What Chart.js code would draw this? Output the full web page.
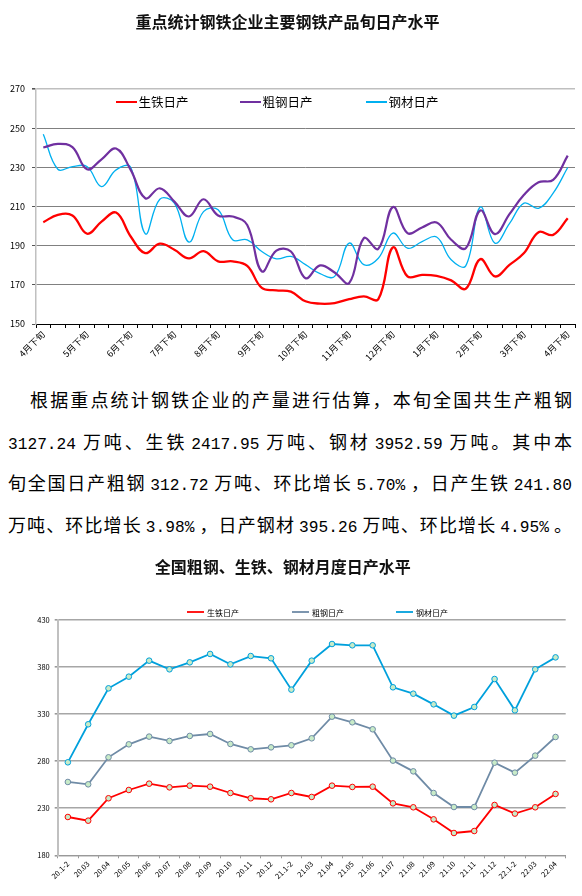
<!DOCTYPE html>
<html>
<head>
<meta charset="utf-8">
<script src="https://cdn.jsdelivr.net/npm/chart.js@4.4.1/dist/chart.umd.min.js"></script>
<style>
  body { margin: 0; background: #fff; width: 582px; }
  .box { position: relative; width: 582px; }
  #text { height: 173px; box-sizing: border-box; padding: 7px 10px 0 8px;
          font-family: 'Noto Sans CJK SC', sans-serif; font-size: 18px; color: #000; }
  #text div { line-height: 41.5px; height: 41.5px; text-align: justify; text-align-last: justify; white-space: nowrap; }
  #text div.first { padding-left: 22px; }
  #text .n { font-family: 'Liberation Mono', monospace; font-size: 16.2px; margin: 0 4px; }
  #text .n.s { margin-left: 0; }
  #text .n.e { margin-right: 0; }
</style>
</head>
<body>
<div class="box" style="height:372px"><canvas id="dekadChart"></canvas></div>
<div id="text">
  <div class="first">根据重点统计钢铁企业的产量进行估算，本旬全国共生产粗钢</div>
  <div><span class="n s">3127.24</span>万吨、生铁<span class="n">2417.95</span>万吨、钢材<span class="n">3952.59</span>万吨。其中本</div>
  <div>旬全国日产粗钢<span class="n">312.72</span>万吨、环比增长<span class="n">5.70%</span>，日产生铁<span class="n e">241.80</span></div>
  <div>万吨、环比增长<span class="n">3.98%</span>，日产钢材<span class="n">395.26</span>万吨、环比增长<span class="n">4.95%</span>。</div>
</div>
<div class="box" style="height:351px"><canvas id="monthChart"></canvas></div>
<script>
// 旬度数据 (重点统计钢铁企业)
var dekadLabels = ['4月下旬', '5月上旬', '5月中旬', '5月下旬', '6月上旬', '6月中旬', '6月下旬',
  '7月上旬', '7月中旬', '7月下旬', '8月上旬', '8月中旬', '8月下旬', '9月上旬', '9月中旬', '9月下旬',
  '10月上旬', '10月中旬', '10月下旬', '11月上旬', '11月中旬', '11月下旬', '12月上旬', '12月中旬', '12月下旬',
  '1月上旬', '1月中旬', '1月下旬', '2月上旬', '2月中旬', '2月下旬', '3月上旬', '3月中旬', '3月下旬',
  '4月上旬', '4月中旬', '4月下旬'];
var dekadPigIron = [202, 205.7, 205.4, 196.1, 202.3, 206.9, 194.7, 186.2, 191, 187.9, 183.5, 187.2, 182, 182,
  179.7, 168.4, 167.2, 166.5, 161.6, 160.4, 160.7, 162.7, 164.1, 162.7, 189.1, 174.3, 175.1, 174.6, 172.3, 168,
  183.1, 174.3, 180.2, 186.2, 196.9, 195.5, 204];
var dekadCrudeSteel = [240.1, 242, 240.3, 229, 234.1, 239.6, 228.7, 214.2, 219.3, 212.5, 204.9, 213.7, 205.4,
  204.9, 200.6, 176.9, 187.5, 187, 173.4, 179.9, 176.3, 170.9, 193.8, 188.4, 209.7, 196.4, 199.3, 201.8, 193,
  188.7, 208, 195.9, 206.1, 216, 222.4, 223.6, 236];
var dekadSteel = [246.9, 229, 230.4, 230.4, 220.2, 228.7, 230, 196.1, 213.7, 211.7, 191.8, 207.4, 208.3, 193,
  193, 187, 183.3, 184.5, 180.3, 175.7, 174.3, 191.3, 180.3, 183.6, 196.4, 188.7, 192.1, 194.4, 182.8, 179.7,
  209.7, 191.3, 201.2, 211.7, 209.1, 216.8, 229.9];

// 月度数据 (全国)
var monthLabels = ['20.1-2', '20.03', '20.04', '20.05', '20.06', '20.07', '20.08', '20.09', '20.10', '20.11',
  '20.12', '21.1-2', '21.03', '21.04', '21.05', '21.06', '21.07', '21.08', '21.09', '21.10', '21.11', '21.12',
  '22.1-2', '22.03', '22.04'];
var monthPigIron = [220.7, 216.8, 240.6, 249.4, 256.1, 252.2, 254, 252.9, 246.2, 240.6, 239.5, 246.2, 242,
  254, 252.6, 252.9, 235.2, 231, 218.2, 203.7, 205.8, 233.5, 224.3, 231, 245.2];
var monthCrudeSteel = [257.9, 255.4, 284.1, 297.9, 306.1, 301.5, 306.8, 308.9, 298.3, 292.6, 294.7, 296.9,
  304.3, 327.3, 321.3, 313.9, 280.6, 269.2, 246.2, 231.3, 231.3, 278.4, 267.8, 285.9, 305.7];
var monthSteel = [278.8, 319.2, 357.4, 369.8, 386.8, 377.6, 385, 393.9, 382.9, 391.7, 389.3, 356, 386.8,
  404.5, 403.1, 403.1, 358.5, 351.7, 340.4, 328.4, 337.6, 367.3, 334, 377.6, 390.3];

Chart.defaults.font.family = "'Noto Sans CJK SC', 'Noto Sans', sans-serif";
Chart.defaults.color = '#000';

// legend drawn at a fixed spot (inside the plot for the first chart)
var inlineLegend = {
  id: 'inlineLegend',
  afterDraw: function (chart, args, opts) {
    var ctx = chart.ctx;
    ctx.save();
    ctx.font = opts.fontSize + "px 'Noto Sans CJK SC', sans-serif";
    ctx.textBaseline = 'middle';
    ctx.textAlign = 'left';
    chart.data.datasets.forEach(function (ds, i) {
      var x = opts.x[i];
      var y = opts.y;
      ctx.strokeStyle = ds.borderColor;
      ctx.lineWidth = opts.lineWidth || ds.borderWidth;
      ctx.beginPath();
      ctx.moveTo(x, y);
      ctx.lineTo(x + opts.lineLength, y);
      ctx.stroke();
      if (opts.marker) {
        ctx.beginPath();
        ctx.arc(x + opts.lineLength / 2, y, ds.pointRadius, 0, Math.PI * 2);
        ctx.fillStyle = ds.pointBackgroundColor;
        ctx.fill();
        ctx.lineWidth = ds.pointBorderWidth;
        ctx.stroke();
      }
      ctx.fillStyle = '#000';
      ctx.fillText(ds.label, x + opts.lineLength + opts.gap, y + 0.5);
    });
    ctx.restore();
  }
};

new Chart(document.getElementById('dekadChart'), {
  type: 'line',
  data: {
    labels: dekadLabels,
    datasets: [
      { label: '生铁日产', data: dekadPigIron, borderColor: '#FF0000', borderWidth: 2.3 },
      { label: '粗钢日产', data: dekadCrudeSteel, borderColor: '#7030A0', borderWidth: 2.2 },
      { label: '钢材日产', data: dekadSteel, borderColor: '#00B0F0', borderWidth: 1.3 }
    ]
  },
  options: {
    responsive: true,
    maintainAspectRatio: false,
    animation: false,
    layout: { padding: { left: 0, right: 7, top: 0, bottom: 0 } },
    elements: { point: { radius: 0 }, line: { tension: 0.4 } },
    plugins: {
      legend: { display: false },
      tooltip: { enabled: false },
      title: {
        display: true,
        text: '重点统计钢铁企业主要钢铁产品旬日产水平',
        font: { size: 16, weight: 'bold' },
        color: '#111',
        padding: { top: 12.4, bottom: 57.4 }
      },
      inlineLegend: { x: [116, 240, 366], y: 102, lineLength: 21, gap: 1.5, fontSize: 12.5, lineWidth: 2 }
    },
    scales: {
      x: {
        offset: true,
        afterFit: function (scale) { scale.height = 48; },
        grid: { offset: true, drawOnChartArea: false, tickLength: 4, color: '#000' },
        border: { color: '#000', width: 1 },
        ticks: {
          autoSkip: false, minRotation: 45, maxRotation: 45, padding: 1,
          font: { size: 9 },
          callback: function (v, i) { return i % 3 === 0 ? this.getLabelForValue(v) : ''; }
        }
      },
      y: {
        min: 150,
        max: 270,
        afterFit: function (scale) { scale.width = 36; },
        grid: {
          tickLength: 4,
          tickColor: '#555',
          color: function (c) { return c.tick && c.tick.value === 270 ? '#BFBFBF' : '#808080'; },
          lineWidth: function (c) { return c.tick && c.tick.value === 270 ? 1.6 : 1; }
        },
        border: { color: '#C0C0C0', width: 1.5 },
        ticks: { stepSize: 20, padding: 7, font: { size: 9 } }
      }
    }
  },
  plugins: [inlineLegend]
});

new Chart(document.getElementById('monthChart'), {
  type: 'line',
  data: {
    labels: monthLabels,
    datasets: [
      { label: '生铁日产', data: monthPigIron, borderColor: '#FF0000' },
      { label: '粗钢日产', data: monthCrudeSteel, borderColor: '#6F8BA6' },
      { label: '钢材日产', data: monthSteel, borderColor: '#00A0DC' }
    ]
  },
  options: {
    responsive: true,
    maintainAspectRatio: false,
    animation: false,
    layout: { padding: { left: 0, right: 16.3, top: 0, bottom: 0 } },
    elements: {
      line: { tension: 0, borderWidth: 1.8 },
      point: { radius: 2.8, borderWidth: 1, backgroundColor: '#C8EBC8' }
    },
    datasets: { line: { pointBackgroundColor: '#C8EBC8', pointRadius: 2.8, pointBorderWidth: 1 } },
    plugins: {
      legend: { display: false },
      tooltip: { enabled: false },
      title: {
        display: true,
        text: '全国粗钢、生铁、钢材月度日产水平',
        font: { size: 16, weight: 'bold' },
        color: '#111',
        padding: { top: 12.4, bottom: 43.4 }
      },
      inlineLegend: { x: [187, 292, 396], y: 67, lineLength: 17, gap: 3, fontSize: 8, lineWidth: 1.8, marker: true }
    },
    scales: {
      x: {
        offset: true,
        afterFit: function (scale) { scale.height = 40.7; },
        grid: { offset: true, drawOnChartArea: false, tickLength: 3, color: '#999' },
        border: { color: '#999', width: 1 },
        ticks: { autoSkip: false, minRotation: 45, maxRotation: 45, padding: 1, font: { size: 7.5 } }
      },
      y: {
        min: 180,
        max: 430,
        afterFit: function (scale) { scale.width = 57.7; },
        grid: { tickLength: 3, tickColor: '#999', color: '#A6A6A6', lineWidth: 1.6 },
        border: { color: '#C0C0C0', width: 2 },
        ticks: { stepSize: 50, padding: 5, font: { size: 7.5 } }
      }
    }
  },
  plugins: [inlineLegend]
});
</script>
</body>
</html>
